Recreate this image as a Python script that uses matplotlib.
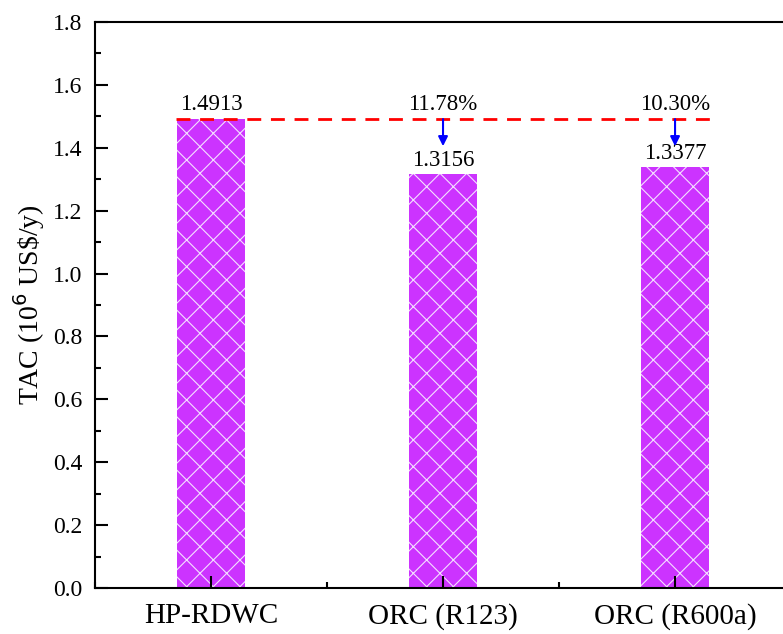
import matplotlib.pyplot as plt
import numpy as np
from matplotlib.ticker import MultipleLocator

# data
cases = ["HP-RDWC", "ORC (R123)", "ORC (R600a)"]
tac = [1.4913, 1.3156, 1.3377]
tac_labels = ["1.4913", "1.3156", "1.3377"]
reduction = ["", "11.78%", "10.30%"]

# drawn at 80 dpi so the hatch spacing matches; point sizes scaled up to compensate
DPI = 80
k = 100 / DPI

plt.rcParams['font.family'] = ['Liberation Serif', 'DejaVu Serif']
plt.rcParams['hatch.linewidth'] = 0.8 * k

fig = plt.figure(figsize=(783 / DPI, 634 / DPI), dpi=DPI)
ax = fig.add_axes([0.1213, 0.0726, 0.889, 0.8927])
ax.set_axisbelow(False)

x = np.arange(1, len(cases) + 1)
ax.bar(x, tac, width=0.29, color='#CC33FF', hatch='x', edgecolor='#F4E0FF',
       linewidth=0, zorder=1)

base = tac[0]
ax.plot([x[0] - 0.15, x[-1] + 0.15], [base, base], color='red',
        ls=(0, (5, 3.5)), lw=2 * k, zorder=3)

for i in range(len(x)):
    ax.text(x[i], tac[i] + 0.012, tac_labels[i], ha='center', va='bottom', fontsize=16.5 * k)
    if reduction[i]:
        ax.text(x[i], base + 0.012, reduction[i], ha='center', va='bottom', fontsize=16.5 * k)
        ax.annotate('', xy=(x[i], 1.405), xytext=(x[i], base),
                    arrowprops=dict(arrowstyle='-|>', color='blue', lw=1.5 * k,
                                    mutation_scale=14 * k, shrinkA=0, shrinkB=0))

ax.set_xlim(0.5, 3.5)
ax.set_ylim(0, 1.8)
ax.set_xticks(x)
ax.set_xticklabels(cases, fontsize=21 * k)
ax.xaxis.set_minor_locator(MultipleLocator(0.5))
ax.yaxis.set_minor_locator(MultipleLocator(0.1))
ax.set_yticks(np.arange(0, 1.81, 0.2))
ax.set_yticklabels(["%.1f" % v for v in np.arange(0, 1.81, 0.2)], fontsize=17 * k)
ax.set_ylabel("TAC (10$^6$ US\\$/y)", fontsize=20 * k, labelpad=4 * k)

ax.tick_params(which='major', direction='in', length=9 * k, width=1.5 * k, pad=9 * k)
ax.tick_params(which='minor', direction='in', length=4.5 * k, width=1.5 * k)
ax.tick_params(axis='x', which='major', pad=11 * k)
for s in ax.spines.values():
    s.set_linewidth(1.5 * k)

fig.savefig('out.png', dpi=DPI)
